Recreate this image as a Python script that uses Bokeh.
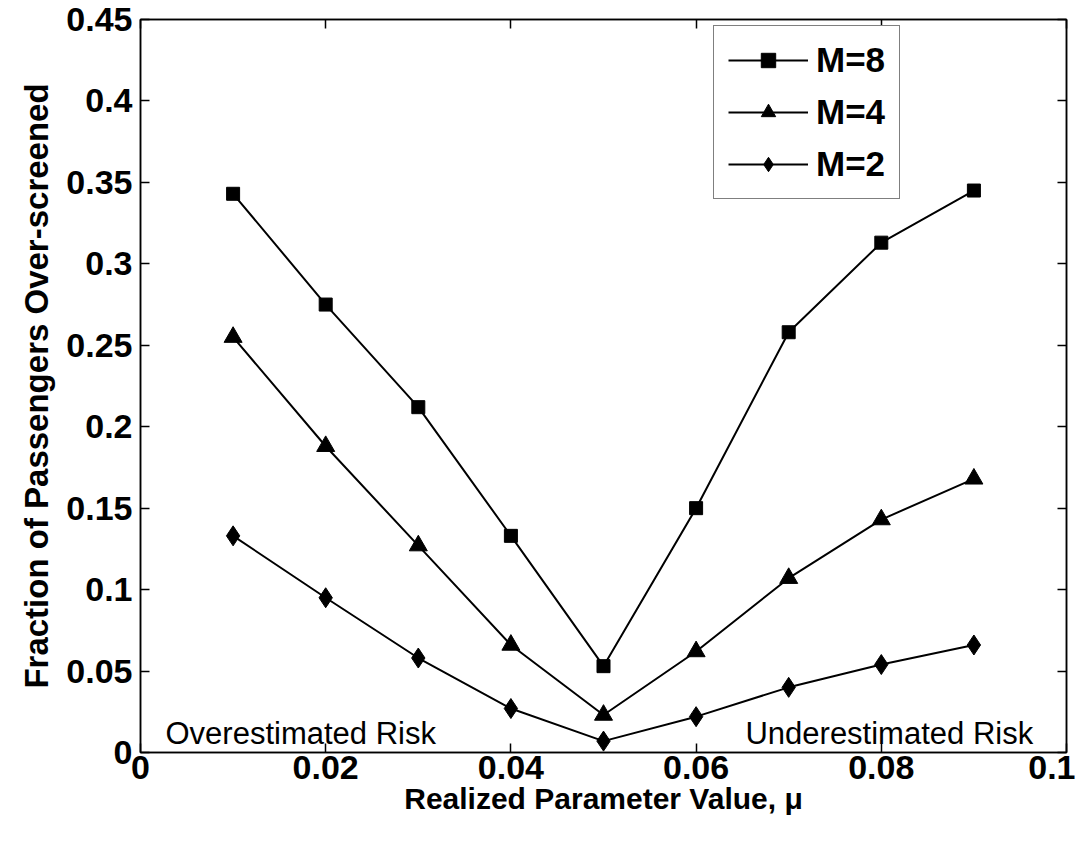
from bokeh.plotting import figure
from bokeh.models import LinearAxis, FixedTicker, Legend, LegendItem, Label, Range1d
from bokeh.embed import file_html
from bokeh.resources import INLINE

mu = [0.01, 0.02, 0.03, 0.04, 0.05, 0.06, 0.07, 0.08, 0.09]
m8 = [0.343, 0.275, 0.212, 0.133, 0.053, 0.150, 0.258, 0.313, 0.345]
m4 = [0.255, 0.188, 0.127, 0.066, 0.023, 0.062, 0.107, 0.143, 0.168]
m2 = [0.133, 0.095, 0.058, 0.027, 0.007, 0.022, 0.040, 0.054, 0.066]

x_ticks = [0, 0.02, 0.04, 0.06, 0.08, 0.1]
x_tick_labels = ["0", "0.02", "0.04", "0.06", "0.08", "0.1"]
y_ticks = [0, 0.05, 0.1, 0.15, 0.2, 0.25, 0.3, 0.35, 0.4, 0.45]
y_tick_labels = ["0", "0.05", "0.1", "0.15", "0.2", "0.25", "0.3", "0.35", "0.4", "0.45"]

FONT = "Liberation Sans"

p = figure(width=1075, height=830, output_backend="svg", toolbar_location=None,
           x_range=Range1d(0, 0.1), y_range=Range1d(0, 0.45),
           min_border_left=140, min_border_right=9, min_border_top=19, min_border_bottom=78,
           x_axis_label="Realized Parameter Value, μ",
           y_axis_label="Fraction of Passengers Over-screened")
p.grid.visible = False
p.outline_line_color = "black"
p.outline_line_width = 1.5
p.background_fill_color = "white"
p.border_fill_color = "white"

def style_axis(ax, ticks, labels, show_labels=True):
    ax.ticker = FixedTicker(ticks=ticks)
    if show_labels:
        ax.major_label_overrides = dict(zip(ticks, labels))
    else:
        ax.major_label_overrides = {t: "" for t in ticks}
    ax.minor_tick_line_color = None
    ax.major_tick_in = 9
    ax.major_tick_out = 0
    ax.major_tick_line_color = "black"
    ax.major_tick_line_width = 1.5
    ax.axis_line_color = "black"
    ax.axis_line_width = 1.5
    ax.major_label_text_font = FONT
    ax.major_label_text_font_style = "bold"
    ax.major_label_text_color = "black"
    ax.major_label_text_font_size = "34px"
    ax.major_label_standoff = 6 if show_labels else 0
    ax.axis_label_text_font = FONT
    ax.axis_label_text_font_style = "bold"
    ax.axis_label_text_color = "black"

style_axis(p.xaxis[0], x_ticks, x_tick_labels)
style_axis(p.yaxis[0], y_ticks, y_tick_labels)
p.xaxis[0].major_label_standoff = 3
p.xaxis[0].axis_label_standoff = 0
p.xaxis[0].axis_label_text_font_size = "30px"
p.yaxis[0].major_label_standoff = 8
p.yaxis[0].axis_label_standoff = 8
p.yaxis[0].axis_label_text_font_size = "33px"

top_ax = LinearAxis()
right_ax = LinearAxis()
style_axis(top_ax, x_ticks, x_tick_labels, show_labels=False)
style_axis(right_ax, y_ticks, y_tick_labels, show_labels=False)
p.add_layout(top_ax, "above")
p.add_layout(right_ax, "right")

r8 = p.line(mu, m8, line_color="black", line_width=2)
s8 = p.scatter(mu, m8, marker="square", size=13, fill_color="black", line_color="black")
r4 = p.line(mu, m4, line_color="black", line_width=2)
s4 = p.scatter(mu, m4, marker="triangle", size=18, fill_color="black", line_color="black")
r2 = p.line(mu, m2, line_color="black", line_width=2)
s2 = p.scatter(mu, m2, marker="diamond", size=20, fill_color="black", line_color="black")

legend = Legend(items=[
    LegendItem(label="M=8", renderers=[r8, s8]),
    LegendItem(label="M=4", renderers=[r4, s4]),
    LegendItem(label="M=2", renderers=[r2, s2]),
], location=(573, 553))
legend.border_line_color = "black"
legend.border_line_width = 1.5
legend.background_fill_color = "white"
legend.background_fill_alpha = 1
legend.label_text_font = FONT
legend.label_text_font_style = "bold"
legend.label_text_font_size = "35px"
legend.label_text_color = "black"
legend.glyph_width = 80
legend.glyph_height = 36
legend.label_height = 36
legend.spacing = 12
legend.padding = 14
legend.margin = 0
legend.label_standoff = 8
p.add_layout(legend, "center")

ann_font = "31px"
p.add_layout(Label(x=0.0027, y=0.0117, text="Overestimated Risk", text_font=FONT,
                   text_font_size=ann_font, text_color="black", text_align="left",
                   text_baseline="alphabetic"))
p.add_layout(Label(x=0.0964, y=0.0117, text="Underestimated Risk", text_font=FONT,
                   text_font_size=ann_font, text_color="black", text_align="right",
                   text_baseline="alphabetic"))

open("out.html", "w").write(file_html(p, INLINE))
